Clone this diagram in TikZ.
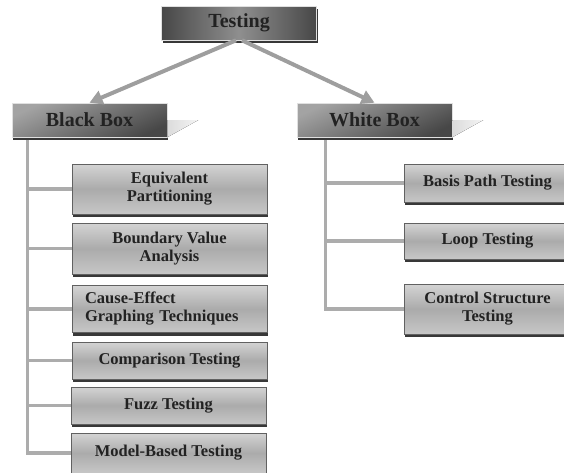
\documentclass[tikz,border=0pt]{standalone}
\usepackage{fontspec}
\setmainfont{Liberation Serif}
\usetikzlibrary{arrows.meta,shadows}
\definecolor{LinkGray}{RGB}{172,172,172}
\definecolor{InkGray}{RGB}{34,34,34}

\begin{document}
\begin{tikzpicture}[x=1pt,y=-1pt,
    boxshadow/.style={drop shadow={shadow xshift=1pt,shadow yshift=-3pt,fill=black!78,opacity=1}},
    headbox/.style={draw=black!12,line width=.6pt,minimum width=155pt,minimum height=34pt,
      inner sep=0pt,top color=black!36,bottom color=black!72,shading angle=25,boxshadow,
      font=\bfseries\fontsize{20}{22}\selectfont,text=InkGray},
    leafbox/.style={draw=black!62,line width=.7pt,inner sep=0pt,align=center,
      top color=black!17,bottom color=black!22,middle color=black!33,boxshadow,
      font=\bfseries\fontsize{16.5}{18}\selectfont,text=InkGray},
    leafL/.style={leafbox,minimum width=195pt},
    leafR/.style={leafbox,minimum width=167pt},
    link/.style={LinkGray,line width=3.5pt},
    arrowlink/.style={draw=black!38,line width=4pt,-{Triangle[length=13pt,width=14pt]}},
    wedge/.style={left color=black!14,right color=black!4}]
  \useasboundingbox (0,0) rectangle (564,472);

  % top level
  \node[headbox,left color=black!72,right color=black!72,middle color=black!44]
    (testing) at (239,23) {Testing};
  \node[headbox] (blackbox) at (89.5,120) {Black Box};
  \node[headbox] (whitebox) at (374.5,120) {White Box};
  \fill[wedge] (blackbox.east) -- ++(31,0) -- (blackbox.south east) -- cycle;
  \fill[wedge] (whitebox.east) -- ++(31,0) -- (whitebox.south east) -- cycle;
  \draw[arrowlink] ([xshift=-3pt]testing.south) -- (blackbox.north);
  \draw[arrowlink] ([xshift=3pt]testing.south) -- (whitebox.north);

  % black box techniques
  \node[leafL,minimum height=50pt] (eqp) at (169.5,189) {Equivalent\\Partitioning};
  \node[leafL,minimum height=51pt] (bva) at (169.5,248.5) {Boundary Value\\Analysis};
  \node[leafL,minimum height=47pt,align=left,text width=169pt,inner xsep=13pt]
    (cegt) at (169.5,309) {Cause-Effect\\Graphing Techniques};
  \node[leafL,minimum height=37pt] (cmp) at (169.5,360.5) {Comparison Testing};
  \node[leafL,minimum height=37pt] (fuzz) at (168.5,405.5) {Fuzz Testing};
  \node[leafL,minimum height=40pt] (mbt) at (168.5,453) {Model-Based Testing};

  % white box techniques
  \node[leafR,minimum height=38pt] (bpt) at (487.5,183) {Basis Path Testing};
  \node[leafR,minimum height=36pt] (loop) at (487.5,241) {Loop Testing};
  \node[leafR,minimum height=50pt] (csp) at (487.5,309) {Control Structure\\Testing};

  \coordinate (bt) at ([xshift=16pt,yshift=-3pt]blackbox.south west);
  \coordinate (wt) at ([xshift=29pt,yshift=-3pt]whitebox.south west);
  \draw[link] (bt) |- (mbt.west);
  \foreach \n in {eqp,bva,cegt,cmp,fuzz}
    \draw[link] (bt |- \n.west) -- (\n.west);
  \draw[link] (wt) |- (csp.west);
  \foreach \n in {bpt,loop}
    \draw[link] (wt |- \n.west) -- (\n.west);
\end{tikzpicture}
\end{document}
